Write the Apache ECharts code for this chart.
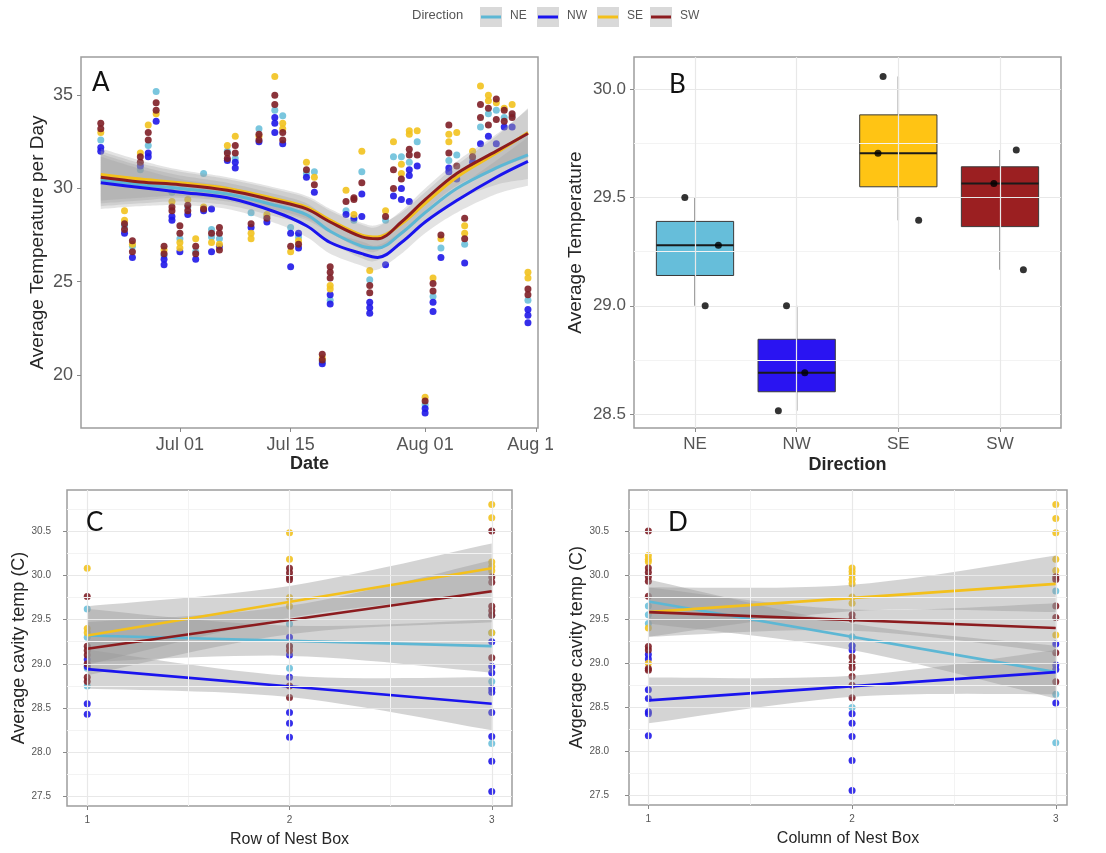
<!DOCTYPE html>
<html>
<head>
<meta charset="utf-8">
<script src="https://cdn.jsdelivr.net/npm/echarts@6/dist/echarts.min.js"></script>
<style>
  html, body { margin: 0; padding: 0; background: #ffffff; }
  #chart { width: 1106px; height: 853px; }
</style>
</head>
<body>
<div id="chart"></div>
<script>
// ---------- shared ----------
const directions = ['NE', 'NW', 'SE', 'SW'];

// ---------- Panel A: daily average temperature ----------
const dayTicks = [0, 14, 31, 45];                       // days after Jul 01
const dayTickLabels = ['Jul 01', 'Jul 15', 'Aug 01', 'Aug 15'];
const tempTicksA = [20, 25, 30, 35];

const days = [-10, -7, -6, -5, -4, -3, -2, -1, 0, 1, 2, 3, 4, 5, 6, 7, 9, 10, 11, 12, 13, 14, 15, 16, 17, 18, 19,
  21, 22, 23, 24, 26, 27, 28, 29, 30, 31, 32, 33, 34, 35, 36, 37, 38, 39, 40, 41, 42, 44];

const dailyNE = [[32.6], [28.0], [26.9], [31.0], [32.3], [35.2], [26.4], [29.8], [27.3], [29.0], [26.6], [30.8], [27.8, 27.4],
  [27.3], [32.0], [31.6], [28.7], [33.2], [28.5], [34.2], [33.9], [27.9], [27.4], [30.8], [30.9], [20.7], [24.0],
  [28.8], [28.3], [30.9], [25.1], [28.3], [31.7], [31.7], [31.4], [32.5], [18.4], [24.2], [26.8], [31.5], [31.8], [27.0],
  [31.6], [33.3], [34.0], [34.2], [33.8], [33.9], [24.0]];
const dailyNW = [[32.2, 32.0], [27.6], [26.3], [31.2], [31.9, 31.7], [33.6], [26.2, 25.9], [28.5, 28.3], [26.6], [28.6], [26.2],
  [28.8], [28.9, 26.6], [26.9], [31.5], [31.4, 31.1], [27.9], [32.5], [28.2], [33.8, 33.5, 33.0], [32.4], [27.6, 25.8],
  [27.6, 26.8], [30.6], [29.8], [20.6], [24.3, 23.8], [28.6], [28.4], [29.7, 28.5], [23.9, 23.6, 23.3], [25.9], [29.6],
  [30.0, 29.4], [31.0, 30.7, 29.3], [31.2], [18.2, 17.95], [23.9, 23.4], [26.3], [31.1, 30.9], [30.5], [26.0], [31.4],
  [32.4], [32.8], [32.4], [33.3], [33.3], [23.5, 23.2, 22.8]];
const dailySE = [[33.0], [28.8, 28.3], [27.0], [31.9], [33.4], [34.0], [26.7], [29.3], [27.1, 26.8], [29.4], [27.3], [29.0],
  [27.1], [27.0], [32.3], [32.8], [27.6, 27.3], [32.8], [28.6], [36.0], [33.5, 33.2], [26.6], [27.2], [31.4], [30.6],
  [20.9], [24.8, 24.6], [29.9], [28.6], [32.0], [25.6], [28.8], [32.5], [31.3, 30.8], [33.1, 32.9], [33.1], [18.8],
  [25.2], [27.3], [32.9, 32.5], [33.0], [28.0, 27.6], [32.0], [35.5], [35.0, 34.7], [34.6], [34.3], [34.5], [25.5, 25.2]];
const dailySW = [[33.5, 33.2], [28.1, 27.8], [27.2, 26.6], [31.7, 31.4], [33.0, 32.6], [34.6, 34.2], [26.9, 26.5], [29.0, 28.8],
  [28.0, 27.6], [29.1, 28.8], [26.9, 26.5], [28.9], [27.6], [27.9, 27.6, 26.7], [31.9, 31.6], [32.3, 31.9], [28.1],
  [32.9, 32.6], [28.4], [35.0, 34.5], [33.0, 32.6], [26.9], [27.0], [31.0], [30.2], [21.1, 20.8], [25.8, 25.5, 25.2],
  [29.3], [29.5, 29.4], [30.3], [24.8, 24.4], [28.5], [31.0, 30.0], [30.5], [32.1, 31.8], [31.8], [18.6], [24.9, 24.5],
  [27.5], [33.4, 31.9], [31.2], [28.4, 27.3], [31.7], [34.5, 33.8], [34.3, 33.4], [34.8, 33.7], [34.2, 33.6],
  [34.0, 33.8], [24.6, 24.3]];

// smoothed trend per direction with its confidence half-width
const trendDays = [-10, -5, 0, 6, 12, 16, 19, 23, 25, 28, 31, 35, 40, 44];
const trendNE = [30.45, 30.2, 30.0, 29.7, 29.1, 28.6, 27.7, 26.9, 26.8, 27.6, 28.7, 30.0, 31.1, 31.8];
const trendNW = [30.3, 30.05, 29.8, 29.5, 28.75, 28.0, 27.1, 26.5, 26.3, 27.1, 28.2, 29.35, 30.6, 31.45];
const trendSE = [30.75, 30.5, 30.3, 30.0, 29.45, 29.0, 28.3, 27.5, 27.4, 28.1, 29.2, 30.6, 31.9, 33.0];
const trendSW = [30.6, 30.35, 30.2, 29.9, 29.35, 28.9, 28.2, 27.4, 27.3, 28.2, 29.4, 30.8, 32.0, 32.95];
const trendHalfWidth = [1.4, 1.0, 0.7, 0.6, 0.6, 0.6, 0.6, 0.65, 0.65, 0.6, 0.6, 0.65, 0.9, 1.3];

// ---------- Panel B: average temperature per direction ----------
const tempTicksB = [28.5, 29.0, 29.5, 30.0];
const tempMinorB = [28.75, 29.25, 29.75];
const boxNE = [29.5, 29.0, 29.28];
const boxNW = [29.0, 28.515, 28.69];
const boxSE = [30.06, 29.705, 29.395];
const boxSW = [29.72, 29.167, 29.565];
const jitterNE = [-0.1, 0.1, 0.23];
const jitterNW = [-0.1, -0.18, 0.08];
const jitterSE = [-0.15, -0.2, 0.2];
const jitterSW = [0.16, 0.23, -0.06];

// ---------- Panels C and D: cavity temperature by nest-box row / column ----------
const boxPositions = [1, 2, 3];
const cavityTicks = [27.5, 28.0, 28.5, 29.0, 29.5, 30.0, 30.5];
const cavityMinor = [27.75, 28.25, 28.75, 29.25, 29.75, 30.25, 30.75];
const positionMinor = [1.5, 2.5];

const rowNE = [[29.62, 29.3, 28.95, 28.75], [29.45, 29.2, 28.95], [29.55, 29.35, 28.8, 28.1]];
const rowNW = [[29.05, 28.97, 28.55, 28.43], [29.3, 29.1, 28.85, 28.45, 28.33, 28.17],
  [29.25, 28.97, 28.9, 28.72, 28.68, 28.45, 28.18, 27.9, 27.56]];
const rowSE = [[30.08, 29.4, 29.35], [30.48, 30.18, 29.75, 29.65], [30.8, 30.65, 30.15, 30.1, 30.05, 29.35]];
const rowSW = [[29.76, 29.2, 29.15, 29.1, 29.0, 28.85, 28.8], [30.08, 30.03, 29.98, 29.95, 29.2, 29.15, 28.75, 28.62],
  [30.5, 29.98, 29.92, 29.65, 29.6, 29.55, 29.07]];
// fitted value at row 1 and row 3, confidence half-width at rows 1, 2, 3
const rowFitNE = [29.32, 29.2],  rowCiNE = [0.3, 0.17, 0.3];
const rowFitNW = [28.94, 28.55], rowCiNW = [0.22, 0.12, 0.3];
const rowFitSE = [29.32, 30.08], rowCiSE = [0.33, 0.18, 0.28];
const rowFitSW = [29.17, 29.82], rowCiSW = [0.3, 0.16, 0.35];

const colNE = [[29.65, 29.55, 29.45], [29.3, 29.2, 28.5], [29.82, 28.65, 28.1]];
const colNW = [[29.1, 29.05, 28.7, 28.6, 28.45, 28.43, 28.18], [29.2, 29.15, 28.43, 28.32, 28.17, 27.9, 27.56],
  [29.22, 28.98, 28.93, 28.55]];
const colSE = [[30.22, 30.18, 30.15, 29.4, 29.0], [30.08, 30.04, 30.0, 29.95, 29.9, 29.75, 29.68],
  [30.8, 30.64, 30.48, 30.18, 30.05, 29.32]];
const colSW = [[30.5, 30.08, 30.03, 29.98, 29.93, 29.76, 29.19, 29.15, 28.94, 28.92],
  [29.55, 29.5, 29.07, 29.0, 28.95, 28.85, 28.75, 28.61], [29.98, 29.95, 29.65, 29.52, 29.12, 28.79]];
const colFitNE = [29.7, 28.9],   colCiNE = [0.25, 0.15, 0.3];
const colFitNW = [28.58, 28.9],  colCiNW = [0.26, 0.12, 0.25];
const colFitSE = [29.58, 29.9],  colCiSE = [0.28, 0.15, 0.32];
const colFitSW = [29.58, 29.4],  colCiSW = [0.28, 0.12, 0.28];

// ---------- styling ----------
const FONT = '"Liberation Sans", Arial, sans-serif';
const LETTER_FONT = 'Lato, "Liberation Sans", sans-serif';
const lineColor = { NE: '#5DB7D4', NW: '#1A14EE', SE: '#F3C01C', SW: '#8C1C1F' };
const pointColor = { NE: '#6CC0DA', NW: '#1F17E8', SE: '#F2C21E', SW: '#7E1E26' };
const boxFill = { NE: '#66BEDA', NW: '#2A14F2', SE: '#FFC414', SW: '#9B1F21' };
const bandFillA = 'rgba(153,153,153,0.28)';
const bandFill = 'rgba(153,153,153,0.42)';
const tickColor = '#555555';
const titleColor = '#262626';

const daily = { NE: dailyNE, NW: dailyNW, SE: dailySE, SW: dailySW };
const trend = { NE: trendNE, NW: trendNW, SE: trendSE, SW: trendSW };
const boxValues = { NE: boxNE, NW: boxNW, SE: boxSE, SW: boxSW };
const jitter = { NE: jitterNE, NW: jitterNW, SE: jitterSE, SW: jitterSW };
const rowPts = { NE: rowNE, NW: rowNW, SE: rowSE, SW: rowSW };
const rowFit = { NE: rowFitNE, NW: rowFitNW, SE: rowFitSE, SW: rowFitSW };
const rowCi = { NE: rowCiNE, NW: rowCiNW, SE: rowCiSE, SW: rowCiSW };
const colPts = { NE: colNE, NW: colNW, SE: colSE, SW: colSW };
const colFit = { NE: colFitNE, NW: colFitNW, SE: colFitSE, SW: colFitSW };
const colCi = { NE: colCiNE, NW: colCiNW, SE: colCiSE, SW: colCiSW };

// quartiles (type 7) used for the box plot
function quantile(sorted, p) {
  const h = (sorted.length - 1) * p;
  const lo = Math.floor(h), hi = Math.ceil(h);
  return sorted[lo] + (sorted[hi] - sorted[lo]) * (h - lo);
}
function boxStats(vals) {
  const s = vals.slice().sort((a, b) => a - b);
  const q1 = quantile(s, 0.25), med = quantile(s, 0.5), q3 = quantile(s, 0.75);
  const iqr = q3 - q1;
  const lo = Math.min(...s.filter(v => v >= q1 - 1.5 * iqr));
  const hi = Math.max(...s.filter(v => v <= q3 + 1.5 * iqr));
  return [lo, q1, med, q3, hi];
}

// Catmull-Rom curve through pixel points, returned as a dense list of pixel points
function curvePoints(pts) {
  const out = [pts[0]];
  for (let i = 0; i < pts.length - 1; i++) {
    const p0 = pts[Math.max(i - 1, 0)], p1 = pts[i], p2 = pts[i + 1], p3 = pts[Math.min(i + 2, pts.length - 1)];
    const c1 = [p1[0] + (p2[0] - p0[0]) / 6, p1[1] + (p2[1] - p0[1]) / 6];
    const c2 = [p2[0] - (p3[0] - p1[0]) / 6, p2[1] - (p3[1] - p1[1]) / 6];
    for (let k = 1; k <= 12; k++) {
      const t = k / 12, u = 1 - t;
      out.push([
        u * u * u * p1[0] + 3 * u * u * t * c1[0] + 3 * u * t * t * c2[0] + t * t * t * p2[0],
        u * u * u * p1[1] + 3 * u * u * t * c1[1] + 3 * u * t * t * c2[1] + t * t * t * p2[1]
      ]);
    }
  }
  return out;
}

function valueAxis(gridIndex, min, max, ticks, opts) {
  return Object.assign({
    gridIndex, type: 'value', min, max, scale: true,
    axisLine: { show: false, onZero: false },
    splitLine: { show: false },
    axisTick: { show: true, customValues: ticks, length: 4, lineStyle: { color: '#8a8a8a', width: 1 } },
    axisLabel: { customValues: ticks, color: tickColor, fontFamily: FONT },
    nameLocation: 'middle',
    nameTextStyle: { color: titleColor, fontFamily: FONT }
  }, opts);
}

function gridLines(xi, yi, xs, ys, color, width) {
  return {
    type: 'line', xAxisIndex: xi, yAxisIndex: yi, data: [], silent: true, z: 1,
    markLine: {
      silent: true, symbol: 'none', animation: false, label: { show: false },
      lineStyle: { color, width, type: 'solid' },
      data: xs.map(v => ({ xAxis: v })).concat(ys.map(v => ({ yAxis: v })))
    }
  };
}

// confidence ribbon between two curves given at the same x positions
function ribbon(idx, xs, lower, upper, fill) {
  return {
    type: 'custom', xAxisIndex: idx, yAxisIndex: idx, silent: true, z: 3, clip: true,
    data: [[xs[0], lower[0], upper[0]]],
    renderItem(params, api) {
      const top = curvePoints(xs.map((x, i) => api.coord([x, upper[i]])));
      const bottom = curvePoints(xs.map((x, i) => api.coord([x, lower[i]])));
      return {
        type: 'polygon',
        shape: { points: top.concat(bottom.reverse()) },
        style: { fill }
      };
    }
  };
}

const series = [];

// Panel A: points, confidence ribbons, trend lines
directions.forEach(d => {
  series.push({
    type: 'scatter', xAxisIndex: 0, yAxisIndex: 0, symbolSize: 7, z: 2,
    itemStyle: { color: pointColor[d], opacity: 0.9 },
    data: days.flatMap((day, i) => daily[d][i].map(v => [day, v]))
  });
});
directions.forEach(d => {
  const t = trend[d];
  series.push(ribbon(0, trendDays, t.map((v, i) => v - trendHalfWidth[i]),
    t.map((v, i) => v + trendHalfWidth[i]), bandFillA));
});
directions.forEach(d => {
  series.push({
    type: 'line', xAxisIndex: 0, yAxisIndex: 0, symbol: 'none', smooth: 0.35, z: 4,
    lineStyle: { color: lineColor[d], width: 3 },
    data: trendDays.map((x, i) => [x, trend[d][i]])
  });
});

// Panel B: grid, boxes, jittered points
series.push(gridLines(1, 1, [], tempMinorB, '#f3f3f3', 1));
series.push(gridLines(1, 1, [1, 2, 3, 4], tempTicksB, '#e8e8e8', 1.2));
series.push({
  type: 'custom', xAxisIndex: 1, yAxisIndex: 1, z: 3, silent: true,
  data: directions.map((d, i) => [i + 1].concat(boxStats(boxValues[d]))),
  renderItem(params, api) {
    const x = api.value(0);
    const lo = api.value(1), q1 = api.value(2), med = api.value(3), q3 = api.value(4), hi = api.value(5);
    const half = api.size([0.76, 0])[0] / 2;
    const pLo = api.coord([x, lo]), pQ1 = api.coord([x, q1]), pMed = api.coord([x, med]);
    const pQ3 = api.coord([x, q3]), pHi = api.coord([x, hi]);
    const fill = boxFill[directions[params.dataIndex]];
    return {
      type: 'group',
      children: [
        { type: 'line', shape: { x1: pHi[0], y1: pHi[1], x2: pQ3[0], y2: pQ3[1] }, style: { stroke: '#6e6e6e', lineWidth: 1.4 } },
        { type: 'line', shape: { x1: pQ1[0], y1: pQ1[1], x2: pLo[0], y2: pLo[1] }, style: { stroke: '#6e6e6e', lineWidth: 1.4 } },
        { type: 'rect', shape: { x: pQ3[0] - half, y: pQ3[1], width: half * 2, height: pQ1[1] - pQ3[1] },
          style: { fill, stroke: '#3a3a3a', lineWidth: 1 } },
        { type: 'line', shape: { x1: pMed[0] - half, y1: pMed[1], x2: pMed[0] + half, y2: pMed[1] },
          style: { stroke: '#1a1a1a', lineWidth: 2 } }
      ]
    };
  }
});
series.push({
  type: 'scatter', xAxisIndex: 1, yAxisIndex: 1, symbolSize: 7, z: 5,
  itemStyle: { color: '#000000' },
  data: directions.flatMap((d, i) => boxValues[d].map((v, k) => [i + 1 + jitter[d][k], v]))
});

// Panels C and D: grid, points, ribbons, fitted lines
function positionPanel(idx, pts, fit, ci) {
  series.push(gridLines(idx, idx, positionMinor, cavityMinor, '#f3f3f3', 1));
  series.push(gridLines(idx, idx, boxPositions, cavityTicks, '#e8e8e8', 1.2));
  directions.forEach(d => {
    series.push({
      type: 'scatter', xAxisIndex: idx, yAxisIndex: idx, symbolSize: 7, z: 2,
      itemStyle: { color: pointColor[d], opacity: 0.9 },
      data: boxPositions.flatMap((p, i) => pts[d][i].map(v => [p, v]))
    });
  });
  directions.forEach(d => {
    const f = fit[d];
    const mid = [f[0], (f[0] + f[1]) / 2, f[1]];
    series.push(ribbon(idx, boxPositions, mid.map((v, i) => v - ci[d][i]),
      mid.map((v, i) => v + ci[d][i]), bandFill));
  });
  directions.forEach(d => {
    series.push({
      type: 'line', xAxisIndex: idx, yAxisIndex: idx, symbol: 'none', z: 4,
      lineStyle: { color: lineColor[d], width: 2.6 },
      data: [[1, fit[d][0]], [3, fit[d][1]]]
    });
  });
}
positionPanel(2, rowPts, rowFit, rowCi);
positionPanel(3, colPts, colFit, colCi);

// legend and panel letters
const legendKeys = [
  { d: 'NE', x: 480 }, { d: 'NW', x: 537 }, { d: 'SE', x: 597 }, { d: 'SW', x: 650 }
];
const graphics = [
  { type: 'text', left: 412, top: 9, z: 50,
    style: { text: 'Direction', font: '13px ' + FONT, fill: '#555555' } }
];
legendKeys.forEach(k => {
  graphics.push({ type: 'rect', shape: { x: k.x, y: 7, width: 22, height: 20 }, z: 50,
    style: { fill: '#d9d9d9' } });
  graphics.push({ type: 'line', shape: { x1: k.x + 1, y1: 17, x2: k.x + 21, y2: 17 }, z: 51,
    style: { stroke: lineColor[k.d], lineWidth: 3 } });
  graphics.push({ type: 'text', left: k.x + 30, top: 10, z: 50,
    style: { text: k.d, font: '12px ' + FONT, fill: '#555555' } });
});
[['A', 92, 70], ['B', 669, 72], ['C', 86, 510], ['D', 668, 510]].forEach(([t, x, y]) => {
  graphics.push({ type: 'text', left: x, top: y, z: 50,
    style: { text: t, font: '26px ' + LETTER_FONT, fill: '#111111' } });
});
// panel A's last date label runs into the neighbouring panel and is clipped there
graphics.push({ type: 'rect', shape: { x: 553, y: 431, width: 20, height: 26 }, z: 60, style: { fill: '#ffffff' } });

const gridBorder = { show: true, borderColor: '#9d9d9d', borderWidth: 1.5, backgroundColor: 'transparent' };

const option = {
  animation: false,
  backgroundColor: '#ffffff',
  grid: [
    Object.assign({ left: 81, top: 57, width: 457, height: 371 }, gridBorder),
    Object.assign({ left: 634, top: 57, width: 427, height: 371 }, gridBorder),
    Object.assign({ left: 67, top: 490, width: 445, height: 316 }, gridBorder),
    Object.assign({ left: 629, top: 490, width: 438, height: 315 }, gridBorder)
  ],
  xAxis: [
    valueAxis(0, -12.5, 45.27, dayTicks, {
      name: 'Date', nameGap: 27,
      nameTextStyle: { color: titleColor, fontFamily: FONT, fontSize: 18, fontWeight: 'bold' },
      axisLabel: { customValues: dayTicks, color: tickColor, fontFamily: FONT, fontSize: 18, margin: 8,
        formatter: v => dayTickLabels[dayTicks.indexOf(v)] }
    }),
    valueAxis(1, 0.4, 4.6, [1, 2, 3, 4], {
      name: 'Direction', nameGap: 28,
      nameTextStyle: { color: titleColor, fontFamily: FONT, fontSize: 18, fontWeight: 'bold' },
      axisLabel: { customValues: [1, 2, 3, 4], color: tickColor, fontFamily: FONT, fontSize: 17, margin: 8,
        formatter: v => directions[Math.round(v) - 1] }
    }),
    valueAxis(2, 0.9, 3.1, boxPositions, {
      name: 'Row of Nest Box', nameGap: 26,
      nameTextStyle: { color: titleColor, fontFamily: FONT, fontSize: 16 },
      axisLabel: { customValues: boxPositions, color: tickColor, fontFamily: FONT, fontSize: 10, margin: 9 }
    }),
    valueAxis(3, 0.905, 3.055, boxPositions, {
      name: 'Column of Nest Box', nameGap: 26,
      nameTextStyle: { color: titleColor, fontFamily: FONT, fontSize: 16 },
      axisLabel: { customValues: boxPositions, color: tickColor, fontFamily: FONT, fontSize: 10, margin: 9 }
    })
  ],
  yAxis: [
    valueAxis(0, 17.15, 37.05, tempTicksA, {
      name: 'Average Temperature per Day', nameGap: 34,
      nameTextStyle: { color: titleColor, fontFamily: FONT, fontSize: 19 },
      axisLabel: { customValues: tempTicksA, color: tickColor, fontFamily: FONT, fontSize: 18, margin: 8 }
    }),
    valueAxis(1, 28.435, 30.15, tempTicksB, {
      name: 'Average Temperature', nameGap: 49,
      nameTextStyle: { color: titleColor, fontFamily: FONT, fontSize: 19 },
      axisLabel: { customValues: tempTicksB, color: tickColor, fontFamily: FONT, fontSize: 17, margin: 8,
        formatter: v => v.toFixed(1) }
    }),
    valueAxis(2, 27.395, 30.963, cavityTicks, {
      name: 'Average cavity temp (C)', nameGap: 38,
      nameTextStyle: { color: titleColor, fontFamily: FONT, fontSize: 18 },
      axisLabel: { customValues: cavityTicks, color: tickColor, fontFamily: FONT, fontSize: 10, margin: 16,
        formatter: v => v.toFixed(1) }
    }),
    valueAxis(3, 27.395, 30.963, cavityTicks, {
      name: 'Avgerage cavity temp (C)', nameGap: 39,
      nameTextStyle: { color: titleColor, fontFamily: FONT, fontSize: 18 },
      axisLabel: { customValues: cavityTicks, color: tickColor, fontFamily: FONT, fontSize: 10, margin: 20,
        formatter: v => v.toFixed(1) }
    })
  ],
  graphic: graphics,
  series
};

const chart = echarts.init(document.getElementById('chart'), null, { renderer: 'canvas' });
chart.setOption(option);
</script>
</body>
</html>
